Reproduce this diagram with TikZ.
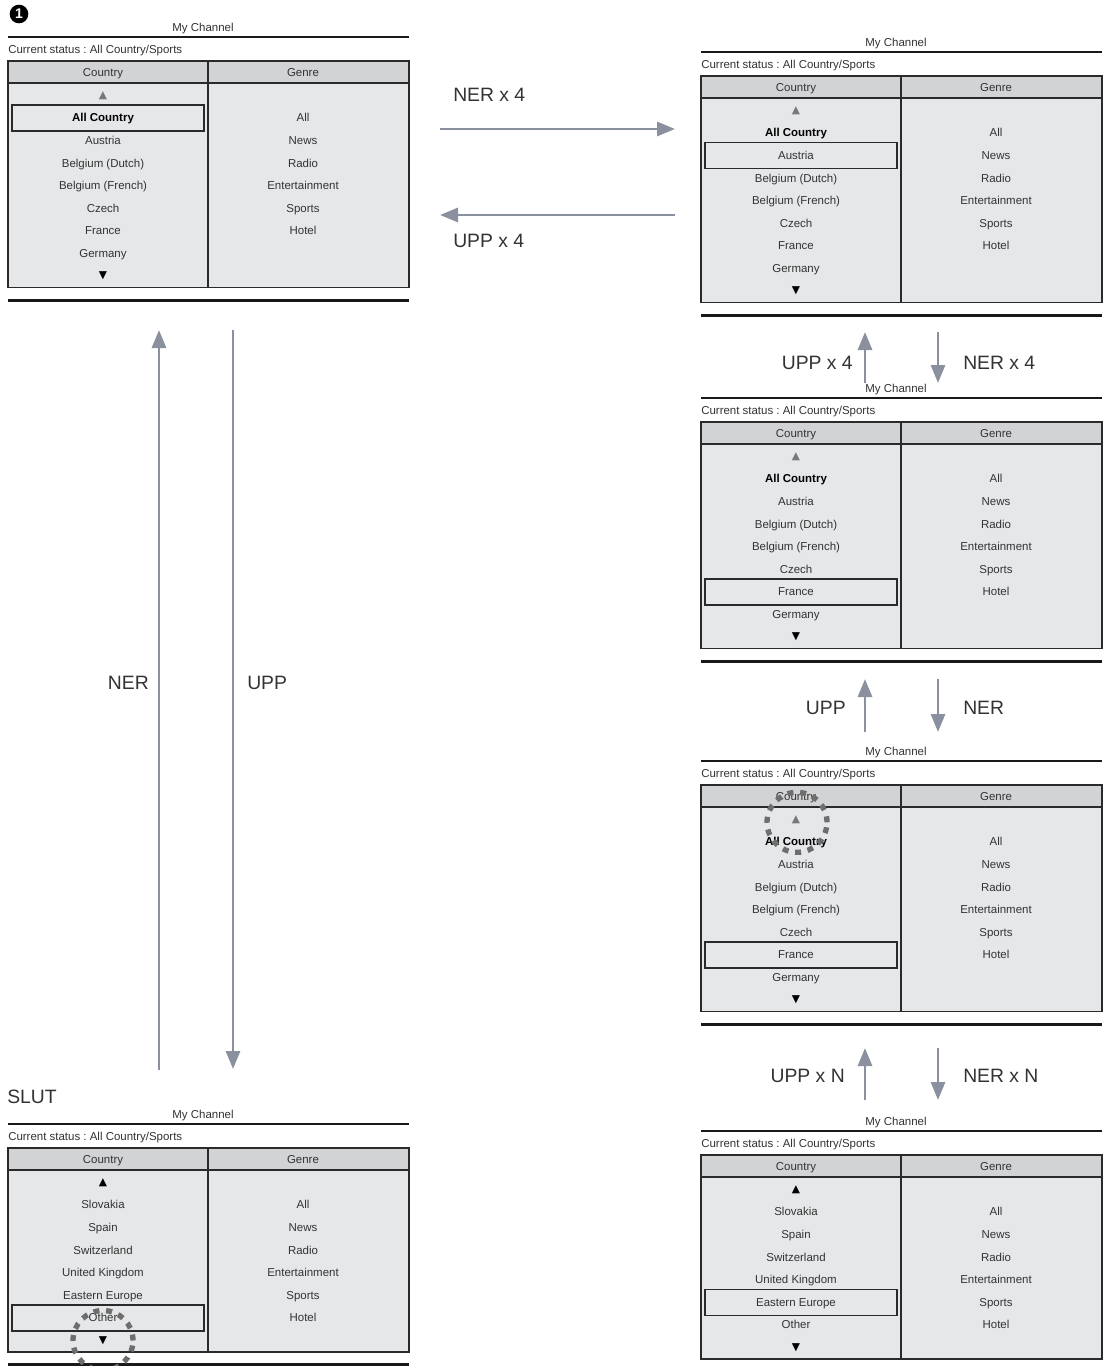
\documentclass[tikz,border=0pt]{standalone}
\usepackage{fontspec}
\setmainfont{Liberation Sans}
\newfontfamily\symfont{DejaVu Sans}
\usepackage{xcolor}
\usepackage{tikz}
\usetikzlibrary{arrows.meta}
\frenchspacing
\definecolor{ink}{HTML}{333333}
\definecolor{frameink}{HTML}{2A2A2A}
\definecolor{panel}{HTML}{E6E7E9}
\definecolor{panelhead}{HTML}{D2D3D5}
\definecolor{flowgray}{HTML}{8A909D}
\definecolor{markgray}{HTML}{787878}
\definecolor{ringgray}{HTML}{6E6E6E}
\tikzset{
  font=\fontsize{8.6}{10}\selectfont,
  item/.style={text=ink, inner sep=0pt, text height=6.1pt, text depth=0pt},
  scroll/.style={text=black, inner sep=0pt, font=\symfont\fontsize{8}{9}\selectfont},
  frame/.style={draw=frameink, line width=1.1pt},
  rule/.style={draw=black!90, line width=2.2pt},
  picked/.style={draw=frameink, line width=1.1pt},
  flow/.style={draw=flowgray, line width=2.2pt, -{Triangle[length=13.5pt,width=10.5pt]}},
  flowlabel/.style={text=ink, inner sep=0pt, font=\fontsize{14.5}{17}\selectfont},
  ring/.style={draw=ringgray, line width=4pt, dash pattern=on 4.5pt off 5pt}
}
\newcommand{\selcountry}[1]{{\bfseries\color{black}#1}}
% #1 name, #2 origin, #3 rows, #4 countries, #5 boxed row, #6 colour of the top mark
\newcommand{\menupanel}[6]{%
  \begin{scope}[shift={#2}]
    \pgfmathsetmacro{\tablebottom}{47+#3*22.6}
    \draw[frame, fill=panel] (0,24) rectangle (401,\tablebottom);
    \draw[frame, fill=panelhead] (0,24) rectangle (401,46);
    \draw[frame] (200,24) -- (200,\tablebottom);
    \draw[rule] (0,0) -- (401,0);
    \draw[rule] (0,\tablebottom+13) -- (401,\tablebottom+13);
    \node[item] (#1-title) at (195,-10) {My Channel};
    \node[item, anchor=west] (#1-status) at (0,12) {Current status : All Country/Sports};
    \node[item] (#1-country) at (95,35) {Country};
    \node[item] (#1-genre) at (295,35) {Genre};
    \node[scroll, text=#6] (#1-up) at (95,58.3) {▲};
    \foreach \cname [count=\i] in {#4}
      \node[item] (#1-c\i) at (95,58.3+\i*22.6) {\cname};
    \node[scroll] (#1-down) at (95,58.3+#3*22.6-22.6) {▼};
    \foreach \gname [count=\i] in {All,News,Radio,Entertainment,Sports,Hotel}
      \node[item] (#1-g\i) at (295,58.3+\i*22.6) {\gname};
    \draw[picked] (4,45.3+#5*22.6) rectangle (196,71.3+#5*22.6);
  \end{scope}%
}

\begin{document}
\begin{tikzpicture}[x=0.75pt,y=-0.75pt]
  \path[use as bounding box] (0,0) rectangle (1106,1366);
  \clip (0,0) rectangle (1106,1366);
  \fill[white] (0,0) rectangle (1106,1366);

  % start and end marks
  \node[circle, fill=black, text=white, inner sep=0pt, minimum size=14pt,
        font=\bfseries\fontsize{10.5}{10.5}\selectfont] (start-no) at (19,14) {1};
  \node[flowlabel, anchor=west] (end-label) at (7,1097) {SLUT};

  % screens
  \menupanel{start}{(8,37)}{9}{\selcountry{All Country},Austria,Belgium (Dutch),Belgium (French),Czech,France,Germany}{1}{markgray}
  \menupanel{austria}{(701,52)}{9}{\selcountry{All Country},Austria,Belgium (Dutch),Belgium (French),Czech,France,Germany}{2}{markgray}
  \menupanel{france}{(701,398)}{9}{\selcountry{All Country},Austria,Belgium (Dutch),Belgium (French),Czech,France,Germany}{6}{markgray}
  \menupanel{top}{(701,761)}{9}{\selcountry{All Country},Austria,Belgium (Dutch),Belgium (French),Czech,France,Germany}{6}{markgray}
  \menupanel{east}{(701,1131)}{8}{Slovakia,Spain,Switzerland,United Kingdom,Eastern Europe,Other}{5}{black}
  \menupanel{last}{(8,1124)}{8}{Slovakia,Spain,Switzerland,United Kingdom,Eastern Europe,Other}{6}{black}

  % scroll hints
  \draw[ring] (top-up) ++(1,3) circle[radius=22.5pt];
  \draw[ring] (last-down) circle[radius=22.5pt];

  % across the top
  \coordinate (fwd-a) at (440,129);  \coordinate (fwd-b) at (675,129);
  \coordinate (back-a) at (675,215); \coordinate (back-b) at (440,215);
  \draw[flow] (fwd-a) -- (fwd-b);
  \draw[flow] (back-a) -- (back-b);
  \node[flowlabel, anchor=west] (fwd-label) at (453,95) {NER x 4};
  \node[flowlabel, anchor=west] (back-label) at (453,241) {UPP x 4};

  % down the left side
  \coordinate (rise-a) at (159,1070); \coordinate (rise-b) at (159,330);
  \coordinate (fall-a) at (233,330);  \coordinate (fall-b) at (233,1069);
  \draw[flow] (rise-a) -- (rise-b);
  \draw[flow] (fall-a) -- (fall-b);
  \node[flowlabel, anchor=east] (rise-label) at (149,683) {NER};
  \node[flowlabel, anchor=west] (fall-label) at (247,683) {UPP};

  % between the right screens
  \foreach \ya/\yb/\ly/\lx/\ul/\dl [count=\k] in
      {332/383/363/853/{UPP x 4}/{NER x 4},
       679/732/708/846/UPP/NER,
       1048/1100/1076/845/{UPP x N}/{NER x N}} {
    \coordinate (up-\k-a) at (865,\yb); \coordinate (up-\k-b) at (865,\ya);
    \coordinate (dn-\k-a) at (938,\ya); \coordinate (dn-\k-b) at (938,\yb);
    \draw[flow] (up-\k-a) -- (up-\k-b);
    \draw[flow] (dn-\k-a) -- (dn-\k-b);
    \node[flowlabel, anchor=east] (upp-\k) at (\lx,\ly) {\ul};
    \node[flowlabel, anchor=west] (ner-\k) at (963,\ly) {\dl};
  }
\end{tikzpicture}
\end{document}
